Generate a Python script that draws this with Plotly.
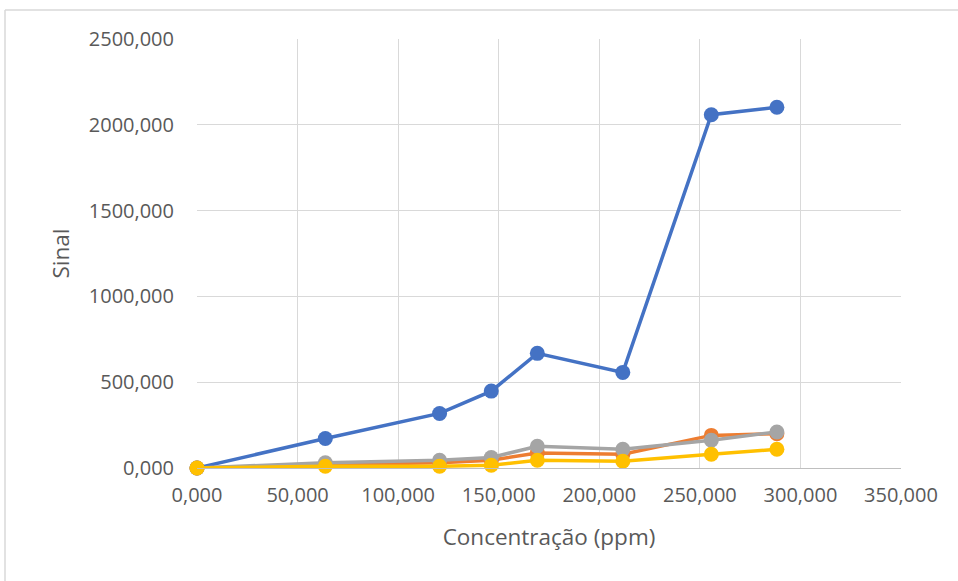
import plotly.graph_objects as go

# Concentração (ppm) for each measurement
concentracao = [0, 63.8, 120.6, 146.3, 169.2, 211.7, 255.7, 288.3]

# Signal series
serie_azul = [0, 172, 318, 448, 668, 557, 2059, 2102]
serie_laranja = [0, 20, 30, 45, 88, 80, 190, 200]
serie_cinza = [0, 31, 45, 61, 127, 109, 162, 210]
serie_amarela = [0, 10, 10, 16, 45, 39, 80, 109]

cores = ["#4472C4", "#ED7D31", "#A5A5A5", "#FFC000"]
series = [serie_azul, serie_laranja, serie_cinza, serie_amarela]

fig = go.Figure()
for valores, cor in zip(series, cores):
    fig.add_trace(go.Scatter(
        x=concentracao, y=valores, mode="lines+markers",
        line=dict(color=cor, width=3.5),
        marker=dict(color=cor, size=15),
        showlegend=False,
        cliponaxis=False,
    ))

# Plot area geometry in pixels (used for the outer frame lines)
L, R, T, B = 197, 57, 39, 113
W, H = 958 - L - R, 581 - T - B
fx = (5 - L) / W
fy = (H + T - 10) / H

fig.update_layout(
    width=958, height=581,
    margin=dict(l=L, r=R, t=T, b=B),
    paper_bgcolor="white", plot_bgcolor="white",
    separators=",.",
    font=dict(family="Open Sans", color="#595959", size=20),
    xaxis=dict(
        range=[0, 350], dtick=50, tickformat=".3f",
        showgrid=True, gridcolor="#d9d9d9", gridwidth=1,
        zeroline=False, showline=True, linecolor="#bfbfbf", linewidth=1,
        ticks="", ticklabelstandoff=9,
        title=dict(text="Concentração (ppm)", font=dict(size=22.5), standoff=22),
    ),
    yaxis=dict(
        range=[0, 2500], dtick=500, tickformat=".3f",
        showgrid=True, gridcolor="#d9d9d9", gridwidth=1,
        zeroline=False, showline=False, ticks="", ticklabelstandoff=22,
        title=dict(text="Sinal", font=dict(size=22.5), standoff=12),
    ),
    shapes=[
        dict(type="line", xref="paper", yref="paper", x0=fx, x1=1.2, y0=fy, y1=fy,
             line=dict(color="#d9d9d9", width=1.5)),
        dict(type="line", xref="paper", yref="paper", x0=fx, x1=fx, y0=fy, y1=-0.5,
             line=dict(color="#d9d9d9", width=1.5)),
    ],
)

fig.write_html("out.html")
